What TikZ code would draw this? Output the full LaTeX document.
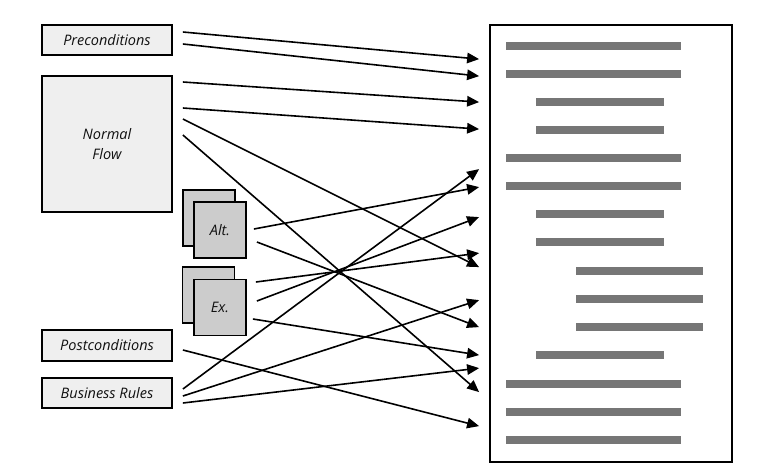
\documentclass[tikz,border=0pt]{standalone}
\usepackage{fontspec}
\setmainfont{Open Sans}
\usetikzlibrary{arrows.meta,calc}
\definecolor{boxfill}{HTML}{EFEFEF}
\definecolor{altfill}{HTML}{CCCCCC}
\definecolor{barcol}{HTML}{767676}
\definecolor{txt}{HTML}{111111}
\tikzset{
  lbl/.style={font=\fontsize{14.5}{20}\selectfont\itshape, text=txt, align=center},
  srcbox/.style={lbl, draw=black, line width=1.8pt, fill=boxfill, inner sep=0pt},
  stackbox/.style={lbl, draw=black, line width=1.8pt, fill=altfill, inner sep=0pt,
    minimum width=52pt, minimum height=56pt},
  docbox/.style={draw=black, line width=1.8pt, fill=white, inner sep=0pt,
    minimum width=242pt, minimum height=437pt},
  conn/.style={line width=1.6pt, -{Triangle[length=12pt,width=10.5pt]}},
  bar/.style={fill=barcol, draw=none},
}
\begin{document}
\begin{tikzpicture}[x=1pt,y=-1pt]
\useasboundingbox (0,0) rectangle (762,474);
% source boxes
\node[srcbox, minimum width=130pt, minimum height=30pt] (pre) at (107,40) {Preconditions};
\node[srcbox, minimum width=130pt, minimum height=136pt] (nf) at (107,144) {Normal\\Flow};
\node[stackbox] (altb) at (209,218) {};
\node[stackbox] (alt) at (220,230) {Alt.};
\node[stackbox] (exb) at (208.5,295) {};
\node[stackbox] (ex) at (220,307.5) {Ex.};
\node[srcbox, minimum width=130pt, minimum height=31pt] (post) at (107,345.5) {Postconditions};
\node[srcbox, minimum width=130pt, minimum height=30pt] (br) at (107,393) {Business Rules};
% document
\node[docbox] (doc) at (611,243.5) {};
% bars
\foreach \y/\a/\b in {46/506/681, 74/506/681, 102/536/664, 130/536/664,
  158/506/681, 186/506/681, 214/536/664, 242/536/664, 271/576/703,
  299/576/703, 327/576/703, 355/536/664, 384/506/681, 412/506/681, 440/506/681}
  \fill[bar] (\a,\y-4) rectangle (\b,\y+4);
% entry points at the document
\foreach \t in {60,77,103,130,170,188,218,254,268,301,328,356,369,393,427}
  \coordinate (in\t) at ($(doc.north west)+(-10,\t-25)$);
% connectors
\draw[conn] ($(pre.east)+(10,-8)$) -- (in60);
\draw[conn] ($(pre.east)+(10,4)$) -- (in77);
\draw[conn] ($(nf.east)+(10,-62)$) -- (in103);
\draw[conn] ($(nf.east)+(10,-36)$) -- (in130);
\draw[conn] ($(nf.east)+(10,-25)$) -- (in268);
\draw[conn] ($(nf.east)+(10,-9)$) -- (in393);
\draw[conn] ($(alt.east)+(7,-1)$) -- (in188);
\draw[conn] ($(alt.east)+(10,12)$) -- (in328);
\draw[conn] ($(ex.east)+(9,-25.5)$) -- (in254);
\draw[conn] ($(ex.east)+(10,-6.5)$) -- (in218);
\draw[conn] ($(ex.east)+(6,11.5)$) -- (in356);
\draw[conn] ($(post.east)+(10,4.5)$) -- (in427);
\draw[conn] ($(br.east)+(10,-4)$) -- (in170);
\draw[conn] ($(br.east)+(10,3)$) -- (in301);
\draw[conn] ($(br.east)+(10,10)$) -- (in369);
\end{tikzpicture}
\end{document}
